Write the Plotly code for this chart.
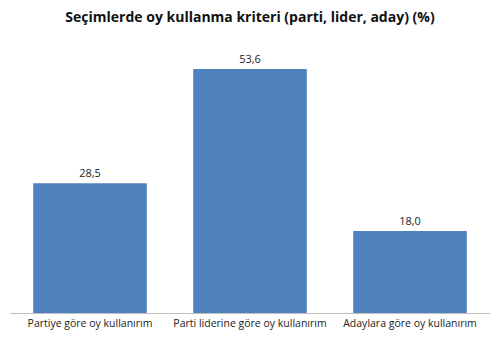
import plotly.graph_objects as go

categories = ["Partiye göre oy kullanırım", "Parti liderine göre oy kullanırım", "Adaylara göre oy kullanırım"]
values = [28.5, 53.6, 18.0]
labels = ["28,5", "53,6", "18,0"]

fig = go.Figure(go.Bar(
    x=categories, y=values, text=labels, textposition="outside",
    marker=dict(color="#4F81BD", line=dict(width=0)),
    textfont=dict(size=11, color="#222222", family="Open Sans"),
    cliponaxis=False,
))
fig.update_layout(
    width=500, height=341,
    margin=dict(l=10, r=10, t=40, b=28),
    paper_bgcolor="white", plot_bgcolor="white",
    bargap=0.29,
    title=dict(text="<b>Seçimlerde oy kullanma kriteri (parti, lider, aday) (%)</b>",
               x=0.5, xanchor="center", y=0.95, yanchor="middle",
               font=dict(size=14, color="#111111", family="Open Sans")),
    xaxis=dict(showline=True, linecolor="#BFBFBF", linewidth=1, ticks="",
               tickfont=dict(size=10.5, color="#222222", family="Open Sans")),
    yaxis=dict(range=[0, 60], visible=False, showgrid=False),
    showlegend=False,
)
fig.write_html("out.html")
